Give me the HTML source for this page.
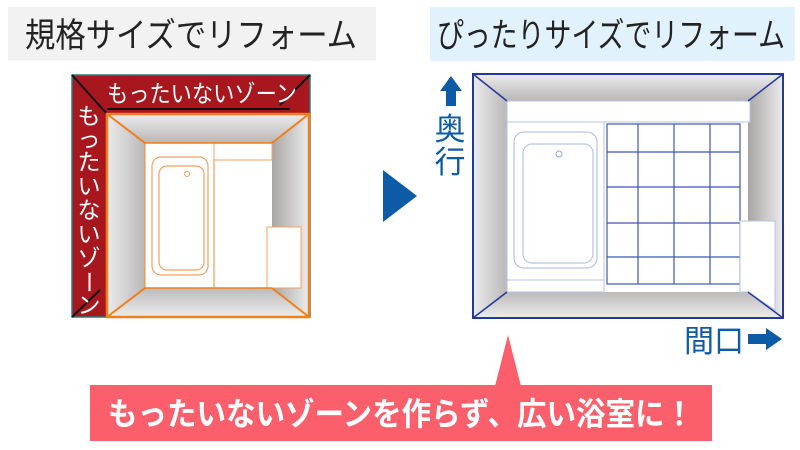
<!DOCTYPE html>
<html><head><meta charset="utf-8"><style>
html,body{margin:0;padding:0;background:#fff;}
svg{display:block;}
text{font-family:"Liberation Sans","Noto Sans CJK JP",sans-serif;}
</style></head><body>
<svg width="800" height="450" viewBox="0 0 800 450" xmlns="http://www.w3.org/2000/svg">
<defs>
<linearGradient id="gt" x1="0" y1="0" x2="0" y2="1"><stop offset="0" stop-color="#ededed"/><stop offset="1" stop-color="#b9b6b6"/></linearGradient>
<linearGradient id="gb" x1="0" y1="1" x2="0" y2="0"><stop offset="0" stop-color="#ededed"/><stop offset="1" stop-color="#bdbaba"/></linearGradient>
<linearGradient id="gl" x1="0" y1="0" x2="1" y2="0"><stop offset="0" stop-color="#ececec"/><stop offset="1" stop-color="#bab7b7"/></linearGradient>
<linearGradient id="gr" x1="1" y1="0" x2="0" y2="0"><stop offset="0" stop-color="#ececec"/><stop offset="1" stop-color="#a9a5a5"/></linearGradient>
</defs>
<!-- titles -->
<rect x="8" y="7" width="368" height="54" fill="#f2f2f2"/>
<text x="25" y="47" font-size="34" textLength="332" lengthAdjust="spacingAndGlyphs" fill="#222">規格サイズでリフォーム</text>
<rect x="430" y="7" width="365" height="54" fill="#e1f2fc"/>
<text x="437" y="47" font-size="34" textLength="348" lengthAdjust="spacingAndGlyphs" fill="#222">ぴったりサイズでリフォーム</text>

<!-- left room -->
<rect x="72" y="75" width="238" height="242" fill="#a8161e" stroke="#2a7b7b" stroke-width="1.5"/>
<line x1="72" y1="75" x2="107" y2="114" stroke="#111" stroke-width="2"/>
<line x1="310" y1="75" x2="280" y2="105" stroke="#111" stroke-width="2"/>
<line x1="72" y1="317" x2="100" y2="290" stroke="#111" stroke-width="2"/>
<line x1="107" y1="109" x2="290" y2="109" stroke="#111" stroke-width="2"/>
<text x="107" y="102" font-size="24" textLength="190" lengthAdjust="spacingAndGlyphs" fill="#fff">もったいないゾーン</text>
<g font-size="23" fill="#fff" text-anchor="middle">
<text x="89" y="124">も</text><text x="89" y="147">っ</text><text x="89" y="170">た</text><text x="89" y="194">い</text><text x="89" y="218">な</text><text x="89" y="242">い</text><text x="89" y="266">ゾ</text>
<text x="89" y="290" transform="rotate(90 89 282)">ー</text><text x="89" y="313">ン</text>
</g>
<polygon points="107,114 309,114 272,143 145,143" fill="url(#gt)"/>
<polygon points="107,317 309,317 272,288 145,288" fill="url(#gb)"/>
<polygon points="107,114 145,143 145,288 107,317" fill="url(#gl)"/>
<polygon points="309,114 272,143 272,288 309,317" fill="url(#gr)"/>
<rect x="145" y="143" width="127" height="145" fill="#fff"/>
<rect x="145" y="143" width="69" height="145" fill="#fff" stroke="#f08a30" stroke-width="1"/>
<rect x="152" y="157" width="56" height="118" rx="9" fill="none" stroke="#f3a060" stroke-width="1.2"/>
<rect x="159" y="166" width="45" height="104" rx="8" fill="none" stroke="#f3a060" stroke-width="1.2"/>
<circle cx="187" cy="174" r="2.5" fill="none" stroke="#f3a060"/>
<rect x="214" y="143" width="58" height="17" fill="#fff" stroke="#f3a060" stroke-width="1"/>
<rect x="267" y="227" width="34" height="61" fill="#fff" stroke="#f3a060" stroke-width="1"/>
<rect x="107" y="114" width="202" height="203" fill="none" stroke="#f07f1c" stroke-width="2.5"/>
<g stroke="#f07f1c" stroke-width="2"><line x1="107" y1="114" x2="145" y2="143"/><line x1="309" y1="114" x2="272" y2="143"/><line x1="107" y1="317" x2="145" y2="288"/><line x1="309" y1="317" x2="272" y2="288"/></g>
<line x1="145" y1="143" x2="272" y2="143" stroke="#f07f1c" stroke-width="1.5"/>
<line x1="145" y1="288" x2="272" y2="288" stroke="#f07f1c" stroke-width="1.5"/>

<!-- arrow -->
<polygon points="383,170 417,196 383,222" fill="#0d5aa7"/>

<!-- right room -->
<polygon points="473,74 783,74 748,101 507,101" fill="url(#gt)"/>
<polygon points="473,318 783,318 748,292 507,292" fill="url(#gb)"/>
<polygon points="473,74 507,101 507,292 473,318" fill="url(#gl)"/>
<polygon points="783,74 748,101 748,292 783,318" fill="url(#gr)"/>
<rect x="507" y="101" width="241" height="191" fill="#fff"/>
<rect x="507" y="101" width="243" height="21" fill="#fff" stroke="#b8c3e6" stroke-width="1"/>
<rect x="507" y="122" width="97" height="170" fill="#fff" stroke="#b8c3e6" stroke-width="1"/>
<rect x="514" y="132" width="83" height="136" rx="10" fill="none" stroke="#b8c3e6" stroke-width="1.2"/>
<rect x="523" y="144" width="70" height="119" rx="9" fill="none" stroke="#b8c3e6" stroke-width="1.2"/>
<circle cx="559" cy="154" r="3" fill="none" stroke="#98a4cc"/>
<line x1="507" y1="280" x2="604" y2="280" stroke="#b8c3e6"/>
<g stroke="#3f56b4" stroke-width="1.2" fill="none">
<rect x="607" y="124" width="133" height="160"/>
<line x1="638" y1="124" x2="638" y2="284"/><line x1="674" y1="124" x2="674" y2="284"/><line x1="710" y1="124" x2="710" y2="284"/>
<line x1="607" y1="152" x2="740" y2="152"/><line x1="607" y1="187" x2="740" y2="187"/><line x1="607" y1="223" x2="740" y2="223"/><line x1="607" y1="257" x2="740" y2="257"/>
</g>
<polygon points="740,221 775,221 775,310 748,292 740,292" fill="#fff" stroke="#b8c3e6"/>
<rect x="473" y="74" width="310" height="244" fill="none" stroke="#24399a" stroke-width="2"/>
<g stroke="#24399a" stroke-width="1.5"><line x1="473" y1="74" x2="507" y2="101"/><line x1="783" y1="74" x2="748" y2="101"/><line x1="473" y1="318" x2="507" y2="292"/><line x1="783" y1="318" x2="748" y2="292"/></g>

<!-- labels -->
<polygon points="451,76 462,91 456,91 456,106 446,106 446,91 440,91" fill="#0d5aa7"/>
<text x="450" y="140" font-size="31" text-anchor="middle" fill="#0d5aa7">奥</text>
<text x="450" y="173" font-size="31" text-anchor="middle" fill="#0d5aa7">行</text>
<text x="684" y="352" font-size="31" textLength="60" lengthAdjust="spacingAndGlyphs" fill="#0d5aa7">間口</text>
<polygon points="748,334 766,334 766,328 782,339 766,350 766,344 748,344" fill="#0d5aa7"/>

<!-- banner -->
<polygon points="508,335 521,386 495,386" fill="#fb5f6c"/>
<rect x="90" y="385" width="622" height="56" fill="#fb5f6c"/>
<text x="108" y="425" font-size="32" font-weight="bold" textLength="586" lengthAdjust="spacingAndGlyphs" fill="#fff">もったいないゾーンを作らず、広い浴室に！</text>
</svg>
</body></html>
